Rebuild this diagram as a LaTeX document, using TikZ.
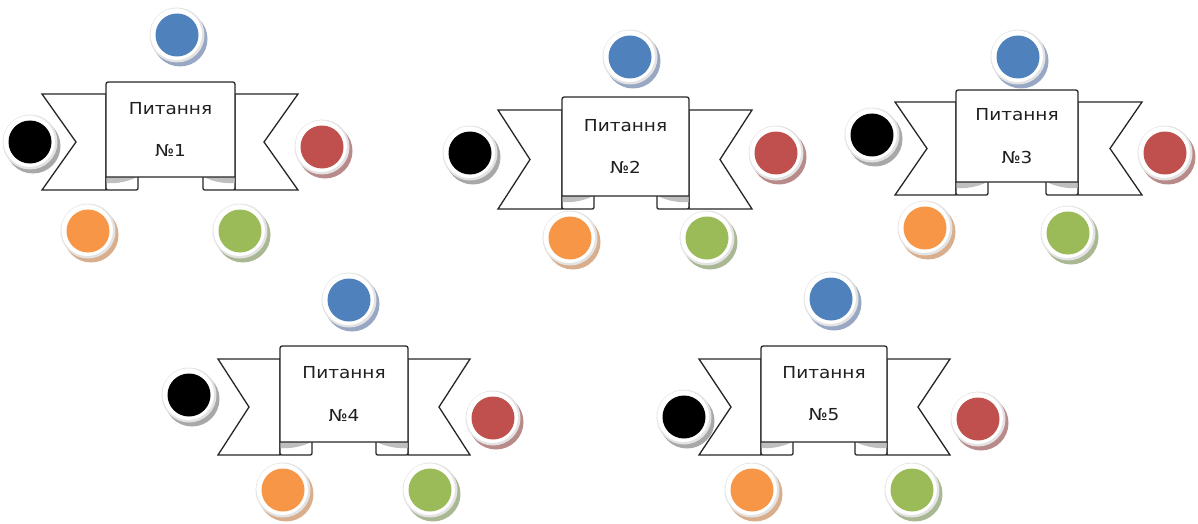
\documentclass[tikz,border=0pt]{standalone}
\usepackage{fontspec}
\setmainfont{DejaVu Sans}
\usepackage{graphicx}
\definecolor{cblue}{HTML}{4F81BD}
\definecolor{cred}{HTML}{C0504D}
\definecolor{cgreen}{HTML}{9BBB59}
\definecolor{corange}{HTML}{F79646}
\definecolor{cblack}{HTML}{000000}
\definecolor{sblue}{HTML}{98A8C4}
\definecolor{sred}{HTML}{B98A8A}
\definecolor{sgreen}{HTML}{A9B792}
\definecolor{sorange}{HTML}{D9AE8C}
\definecolor{sblack}{HTML}{A8A8A8}
\tikzset{
  rib/.style={draw=black!85,line width=1.3pt,fill=white,line join=miter},
  lbl/.style={font=\fontsize{16.5}{19}\selectfont,text=black!88,inner sep=0pt},
  disk/.style={circle,inner sep=0pt,minimum size=43pt,draw=none}
}
\newcommand\ribbonshape[9]{%
  \pgfmathsetmacro\rM{(#6+#7)/2}%
  \pgfmathsetmacro\rPB{#7-13}%
  \pgfmathsetmacro\rX{(#3+#4)/2}%
  \pgfmathsetmacro\rY{(#5+\rPB)/2}%
  \draw[rib] (#1,#6) -- (#3,#6) -- (#3,#7) -- (#1,#7) -- (#1+#8,\rM) -- cycle;
  \draw[rib] (#2,#6) -- (#4,#6) -- (#4,#7) -- (#2,#7) -- (#2-#8,\rM) -- cycle;
  \draw[rib] (#3,\rPB) -- (#3,#7-4) .. controls (#3,#7) .. (#3+4,#7) -- (#3+28,#7) .. controls (#3+32,#7) .. (#3+32,#7-4) -- (#3+32,\rPB);
  \fill[gray!50] (#3+0.5,\rPB) -- (#3+31,\rPB) .. controls (#3+22,\rPB+5) and (#3+8,\rPB+7) .. (#3+0.5,\rPB+6) -- cycle;
  \draw[rib] (#4,\rPB) -- (#4,#7-4) .. controls (#4,#7) .. (#4-4,#7) -- (#4-28,#7) .. controls (#4-32,#7) .. (#4-32,#7-4) -- (#4-32,\rPB);
  \fill[gray!50] (#4-0.5,\rPB) -- (#4-31,\rPB) .. controls (#4-22,\rPB+5) and (#4-8,\rPB+7) .. (#4-0.5,\rPB+6) -- cycle;
  \draw[rib] (#3,\rPB) -- (#3,#5+5) .. controls (#3,#5) .. (#3+5,#5) -- (#4-5,#5) .. controls (#4,#5) .. (#4,#5+5) -- (#4,\rPB) -- cycle;
  \node[lbl] (t#9a) at (\rX,\rY-21) {\scalebox{1.12}[1]{Питання}};
  \node[lbl] (t#9b) at (\rX,\rY+21) {\scalebox{1.12}[1]{№#9}};
}
\newcommand\bead[5]{%
  \fill[#5] (#2+3,#3+4) circle (27.5);
  \fill[gray!22] (#2,#3) circle (27.5);
  \fill[white] (#2-0.8,#3-0.8) circle (25.8);
  \node[disk,fill=#4] (#1) at (#2,#3) {};
}
\begin{document}
\begin{tikzpicture}[x=1pt,y=-1pt]
\useasboundingbox (0,0) rectangle (1198,524);
% group 1
\ribbonshape{42}{298}{106}{235}{82}{94}{190}{34}{1}
\bead{b1}{177}{35}{cblue}{sblue}
\bead{k1}{30}{142}{cblack}{sblack}
\bead{r1}{322}{147}{cred}{sred}
\bead{o1}{88}{231}{corange}{sorange}
\bead{g1}{240}{231}{cgreen}{sgreen}
% group 2
\ribbonshape{498}{752}{562}{689}{97}{110}{209}{32}{2}
\bead{b2}{630}{57}{cblue}{sblue}
\bead{k2}{470}{153}{cblack}{sblack}
\bead{r2}{776}{153}{cred}{sred}
\bead{o2}{570}{238}{corange}{sorange}
\bead{g2}{707}{238}{cgreen}{sgreen}
% group 3
\ribbonshape{895}{1142}{956}{1078}{90}{102}{195}{32}{3}
\bead{b3}{1018}{57}{cblue}{sblue}
\bead{k3}{872}{135}{cblack}{sblack}
\bead{r3}{1165}{153}{cred}{sred}
\bead{o3}{925}{228}{corange}{sorange}
\bead{g3}{1068}{233}{cgreen}{sgreen}
% group 4
\ribbonshape{218}{470}{280}{408}{346}{359}{455}{31}{4}
\bead{b4}{349}{300}{cblue}{sblue}
\bead{k4}{189}{395}{cblack}{sblack}
\bead{r4}{493}{418}{cred}{sred}
\bead{o4}{283}{490}{corange}{sorange}
\bead{g4}{430}{490}{cgreen}{sgreen}
% group 5
\ribbonshape{699}{950}{761}{887}{346}{359}{455}{32}{5}
\bead{b5}{831}{299}{cblue}{sblue}
\bead{k5}{684}{417}{cblack}{sblack}
\bead{r5}{978}{419}{cred}{sred}
\bead{o5}{752}{490}{corange}{sorange}
\bead{g5}{912}{490}{cgreen}{sgreen}
\end{tikzpicture}
\end{document}
